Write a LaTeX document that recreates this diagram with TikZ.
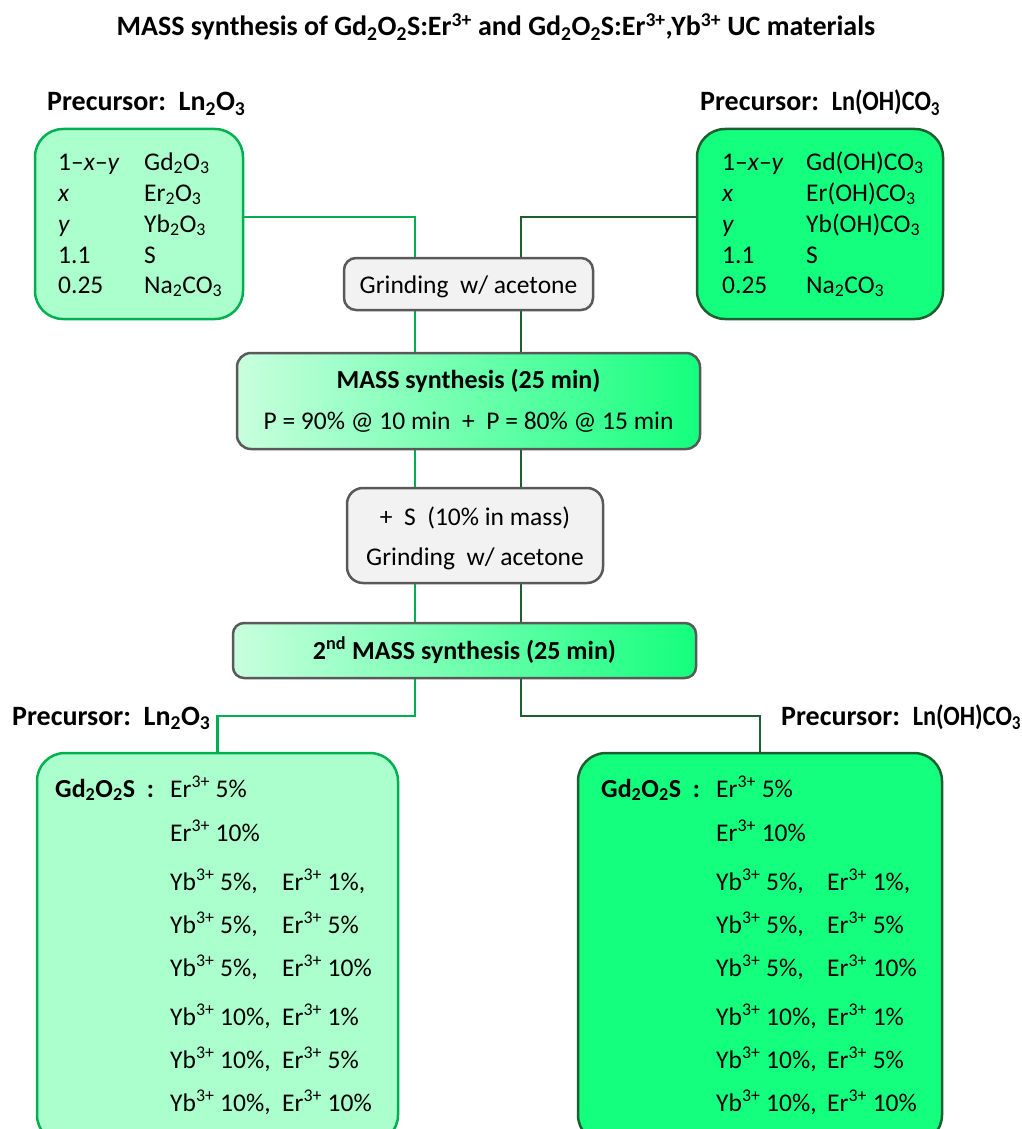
\documentclass[tikz,border=0pt]{standalone}
\usepackage{fontspec}
\setmainfont{Carlito}
\usetikzlibrary{backgrounds}
\definecolor{lightfill}{RGB}{170,255,204}
\definecolor{brightfill}{RGB}{20,255,125}
\definecolor{gradleft}{RGB}{200,255,222}
\definecolor{gborder}{RGB}{0,176,80}
\definecolor{dgborder}{RGB}{28,96,48}
\definecolor{grayborder}{RGB}{89,89,89}
\definecolor{grayfill}{RGB}{242,242,242}
\newcommand{\sub}[1]{\textsubscript{#1}}
\newcommand{\sups}[1]{\textsuperscript{#1}}
\begin{document}
\begin{tikzpicture}[x=1pt,y=-1pt,
  tx/.style={anchor=base west,inner sep=0pt,font=\fontsize{25.5}{30}\selectfont},
  ctx/.style={anchor=base,inner sep=0pt,font=\fontsize{25.5}{30}\selectfont},
  bt/.style={anchor=base west,inner sep=0pt,font=\fontsize{28}{33}\selectfont\bfseries},
  lbox/.style={draw=gborder,fill=lightfill,line width=2.5pt,rounded corners=28pt,inner sep=0pt},
  rbox/.style={draw=dgborder,fill=brightfill,line width=2.5pt,rounded corners=28pt,inner sep=0pt},
  graybox/.style={draw=grayborder,fill=grayfill,line width=2.5pt,rounded corners=12pt,inner sep=0pt},
  gradbox/.style={draw=grayborder,left color=gradleft,right color=brightfill,line width=2.5pt,rounded corners=14pt,inner sep=0pt},
  gline/.style={draw=gborder,line width=2.5pt},
  dgline/.style={draw=dgborder,line width=2.5pt}]
\useasboundingbox (0,0) rectangle (1021,1129);
\begin{scope}
\clip (0,0) rectangle (1021,1129);

% title
\node[anchor=base,inner sep=0pt,font=\fontsize{28}{33}\selectfont\bfseries] (title) at (496,36)
  {MASS synthesis of Gd\sub{2}O\sub{2}S:Er\sups{3+} and Gd\sub{2}O\sub{2}S:Er\sups{3+},Yb\sups{3+} UC materials};

% top boxes
\node[lbox,minimum width=208pt,minimum height=190pt] (ltop) at (139,224) {};
\node[rbox,minimum width=246pt,minimum height=190pt] (rtop) at (820,224) {};
\node[bt] (lprec) at (47,111) {Precursor:\ \ Ln\sub{2}O\sub{3}};
\node[bt] (rprec) at (700,111) {Precursor:\ \ \scalebox{0.87}[1]{Ln(OH)CO\sub{3}}};

\node[tx] (l1a) at (58,170) {1--\textit{x}--\textit{y}};
\node[tx] (l1b) at (144,170) {Gd\sub{2}O\sub{3}};
\node[tx] (l2a) at (58,201) {\textit{x}};
\node[tx] (l2b) at (144,201) {Er\sub{2}O\sub{3}};
\node[tx] (l3a) at (58,232) {\textit{y}};
\node[tx] (l3b) at (144,232) {Yb\sub{2}O\sub{3}};
\node[tx] (l4a) at (58,263) {1.1};
\node[tx] (l4b) at (144,263) {S};
\node[tx] (l5a) at (58,293) {0.25};
\node[tx] (l5b) at (144,293) {Na\sub{2}CO\sub{3}};

\node[tx] (r1a) at (722,170) {1--\textit{x}--\textit{y}};
\node[tx] (r1b) at (806,170) {Gd(OH)CO\sub{3}};
\node[tx] (r2a) at (722,201) {\textit{x}};
\node[tx] (r2b) at (806,201) {Er(OH)CO\sub{3}};
\node[tx] (r3a) at (722,232) {\textit{y}};
\node[tx] (r3b) at (806,232) {Yb(OH)CO\sub{3}};
\node[tx] (r4a) at (722,263) {1.1};
\node[tx] (r4b) at (806,263) {S};
\node[tx] (r5a) at (722,293) {0.25};
\node[tx] (r5b) at (806,293) {Na\sub{2}CO\sub{3}};

% process boxes
\node[graybox,minimum width=249pt,minimum height=52pt] (grind) at (468.5,284) {};
\node[ctx] (grindt) at (468.5,293) {Grinding\ \ w/ acetone};

\node[gradbox,minimum width=463pt,minimum height=96pt] (mass) at (468.5,401) {};
\node[ctx,font=\fontsize{26}{30}\selectfont\bfseries] (masst1) at (468.5,388) {MASS synthesis (25 min)};
\node[ctx] (masst2) at (468.5,429) {P = 90\% @ 10 min\ \ +\ \ P = 80\% @ 15 min};

\node[graybox,rounded corners=16pt,minimum width=256pt,minimum height=95pt] (sulf) at (475,535.5) {};
\node[ctx] (sulft1) at (475,525) {+\ \ S\ \ (10\% in mass)};
\node[ctx] (sulft2) at (475,565) {Grinding\ \ w/ acetone};

\node[gradbox,rounded corners=11pt,minimum width=463pt,minimum height=55pt] (mass2) at (464.5,650.5) {};
\node[ctx,font=\fontsize{26}{30}\selectfont\bfseries] (mass2t) at (464.5,659) {2\sups{nd} MASS synthesis (25 min)};

% bottom boxes
\node[lbox,minimum width=361pt,minimum height=390pt] (lbot) at (217.5,948) {};
\node[rbox,minimum width=364pt,minimum height=390pt] (rbot) at (760,948) {};
\node[bt] (lprec2) at (12,725) {Precursor:\ \ Ln\sub{2}O\sub{3}};
\node[bt] (rprec2) at (781,725) {Precursor:\ \ \scalebox{0.87}[1]{Ln(OH)CO\sub{3}}};

\foreach \bx/\ca/\cb/\nm in {55/170/282/L, 601/716/827/R}{
  \node[tx,font=\fontsize{26}{30}\selectfont\bfseries] (gd\nm) at (\bx,797) {Gd\sub{2}O\sub{2}S\ \ :};
  \node[tx] (e1\nm) at (\ca,797) {Er\sups{3+} 5\%};
  \node[tx] (e2\nm) at (\ca,841) {Er\sups{3+} 10\%};
  \node[tx] (y1\nm) at (\ca,890) {Yb\sups{3+} 5\%,};
  \node[tx] (z1\nm) at (\cb,890) {Er\sups{3+} 1\%,};
  \node[tx] (y2\nm) at (\ca,933) {Yb\sups{3+} 5\%,};
  \node[tx] (z2\nm) at (\cb,933) {Er\sups{3+} 5\%};
  \node[tx] (y3\nm) at (\ca,976) {Yb\sups{3+} 5\%,};
  \node[tx] (z3\nm) at (\cb,976) {Er\sups{3+} 10\%};
  \node[tx] (y4\nm) at (\ca,1025) {Yb\sups{3+} 10\%,};
  \node[tx] (z4\nm) at (\cb,1025) {Er\sups{3+} 1\%};
  \node[tx] (y5\nm) at (\ca,1068) {Yb\sups{3+} 10\%,};
  \node[tx] (z5\nm) at (\cb,1068) {Er\sups{3+} 5\%};
  \node[tx] (y6\nm) at (\ca,1111) {Yb\sups{3+} 10\%,};
  \node[tx] (z6\nm) at (\cb,1111) {Er\sups{3+} 10\%};
}

% connectors
\coordinate (La) at (415,217);
\coordinate (Lb) at (415,716);
\coordinate (Ra) at (521,217);
\coordinate (Rb) at (521,716);
\begin{scope}[on background layer]
\draw[gline] (ltop.east |- La) -- (La) -- (Lb) -- (lbot.north |- Lb) -- (lbot.north);
\draw[dgline] (rtop.west |- Ra) -- (Ra) -- (Rb) -- (rbot.north |- Rb) -- (rbot.north);
\end{scope}
\end{scope}
\end{tikzpicture}
\end{document}
